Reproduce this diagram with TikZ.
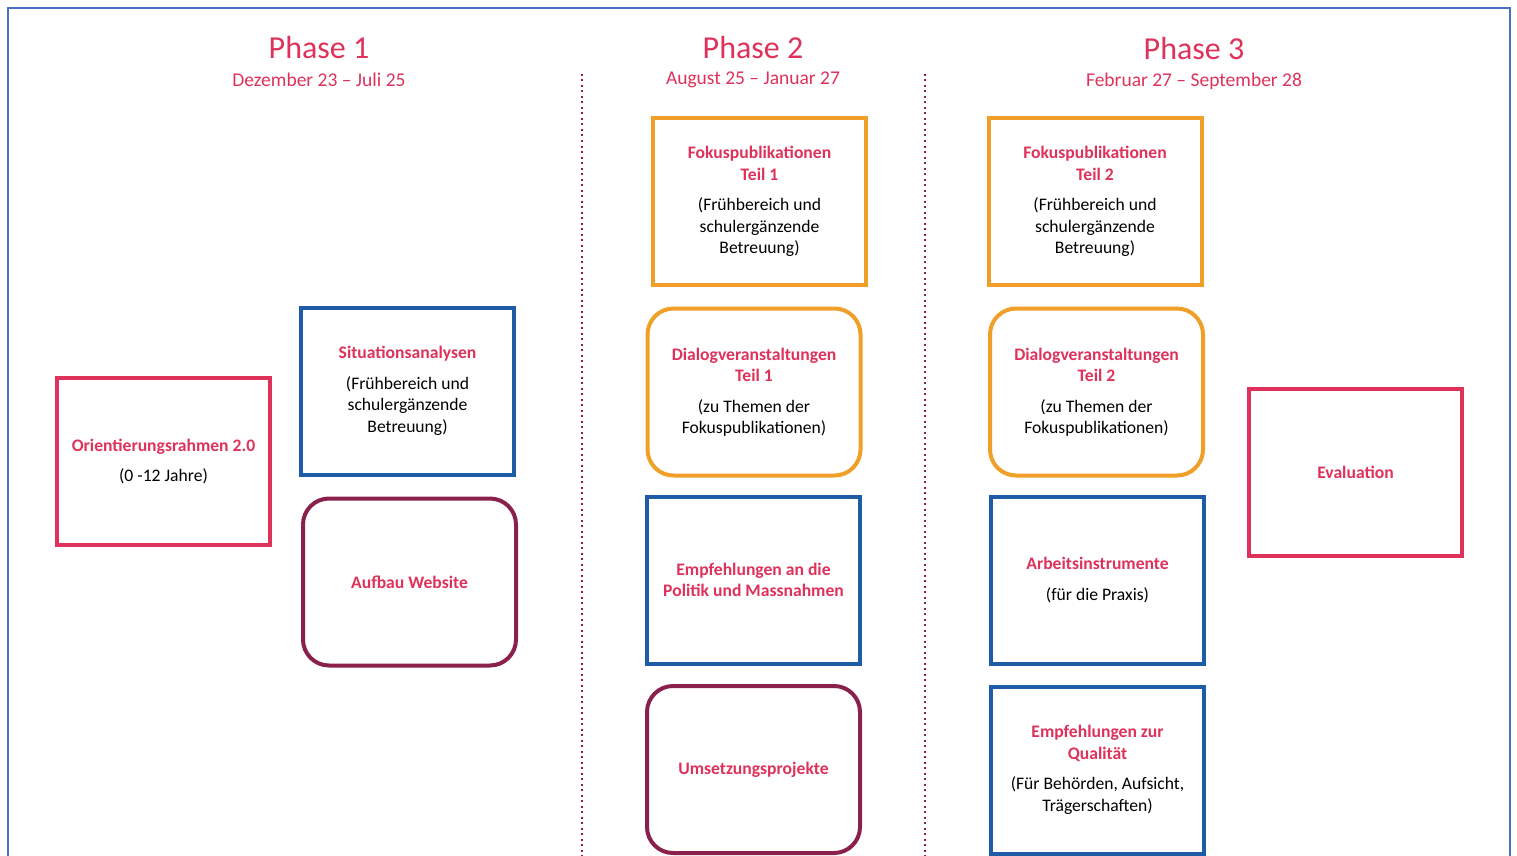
\documentclass[tikz,border=0pt]{standalone}
\usepackage{fontspec}
\setmainfont{Carlito}
\usepackage{xcolor}
\definecolor{tred}{RGB}{222,50,90}
\definecolor{bblue}{RGB}{30,92,168}
\definecolor{borange}{RGB}{240,160,40}
\definecolor{bmaroon}{RGB}{138,32,76}
\definecolor{fblue}{RGB}{70,114,196}
\newcommand{\boxttl}[1]{\textbf{\textcolor{tred}{#1}}}

\begin{document}
\begin{tikzpicture}[x=1pt, y=-1pt]
        % ================= Stile =================
        \tikzset{
            % Grundbox
            phasebox/.style={draw, line width=4pt, fill=white, minimum width=213pt, minimum height=167pt,
                             inner sep=2pt, align=center, text=black, font=\fontsize{17.6}{21.5}\selectfont},
            redbox/.style={phasebox, draw=tred},
            bluebox/.style={phasebox, draw=bblue},
            orangebox/.style={phasebox, draw=borange},
            orangeround/.style={phasebox, draw=borange, rounded corners=26pt},
            maroonround/.style={phasebox, draw=bmaroon, rounded corners=26pt},
            % Kopfzeilen
            phasetitle/.style={text=tred, font=\fontsize{32}{36}\selectfont, inner sep=0pt},
            phasedate/.style={text=tred, font=\fontsize{19.5}{23}\selectfont, inner sep=0pt},
            % Trennlinien
            sepline/.style={bmaroon, line width=2pt, dash pattern=on 2pt off 3.5pt}
        }
        \useasboundingbox (0,0) rectangle (1517,856);

        % Rahmen (unten offen)
        \draw[fblue, line width=2pt] (8,870) -- (8,8) -- (1510,8) -- (1510,870);

        % ================= Trennlinien =================
        \coordinate (s1top) at (582,74);
        \coordinate (s1bot) at (582,856);
        \coordinate (s2top) at (925,74);
        \coordinate (s2bot) at (925,856);
        \draw[sepline] (s1top) -- (s1bot);
        \draw[sepline] (s2top) -- (s2bot);

        % ================= 1. Phase 1 =================
        \node[phasetitle] (ph1) at (319,48) {Phase 1};
        \node[phasedate] (dt1) at (319,80) {Dezember 23 – Juli 25};

        \node[redbox] (orient) at (163.5,461.5)
            {\boxttl{Orientierungsrahmen 2.0}\\[9pt](0 -12 Jahre)};
        \node[bluebox] (situ) at (407.5,391)
            {\boxttl{Situationsanalysen}\\[9pt](Frühbereich und\\schulergänzende\\Betreuung)};
        \node[maroonround] (website) at (409.5,582) {\boxttl{Aufbau Website}};

        % ================= 2. Phase 2 =================
        \node[phasetitle] (ph2) at (753,48) {Phase 2};
        \node[phasedate] (dt2) at (753,80) {August 25 – Januar 27};

        \node[orangebox] (fokus1) at (759.5,201.5)
            {\boxttl{Fokuspublikationen}\\\boxttl{Teil 1}\\[9pt](Frühbereich und\\schulergänzende\\Betreuung)};
        \node[orangeround] (dialog1) at (754,392)
            {\boxttl{Dialogveranstaltungen}\\\boxttl{Teil 1}\\[9pt](zu Themen der\\Fokuspublikationen)};
        \node[bluebox] (politik) at (753.5,580)
            {\boxttl{Empfehlungen an die}\\\boxttl{Politik und Massnahmen}};
        \node[maroonround] (umsetz) at (753.5,769.5) {\boxttl{Umsetzungsprojekte}};

        % ================= 3. Phase 3 =================
        \node[phasetitle] (ph3) at (1194,49) {Phase 3};
        \node[phasedate] (dt3) at (1194,81) {Februar 27 – September 28};

        \node[orangebox] (fokus2) at (1095,201.5)
            {\boxttl{Fokuspublikationen}\\\boxttl{Teil 2}\\[9pt](Frühbereich und\\schulergänzende\\Betreuung)};
        \node[orangeround] (dialog2) at (1096.5,392)
            {\boxttl{Dialogveranstaltungen}\\\boxttl{Teil 2}\\[9pt](zu Themen der\\Fokuspublikationen)};
        \node[bluebox] (instr) at (1097.5,580)
            {\boxttl{Arbeitsinstrumente}\\[9pt](für die Praxis)};
        \node[bluebox] (quali) at (1097.5,770)
            {\boxttl{Empfehlungen zur}\\\boxttl{Qualität}\\[9pt](Für Behörden, Aufsicht,\\Trägerschaften)};

        \node[redbox] (eval) at (1355.5,472) {\boxttl{Evaluation}};

    \end{tikzpicture}
\end{document}
